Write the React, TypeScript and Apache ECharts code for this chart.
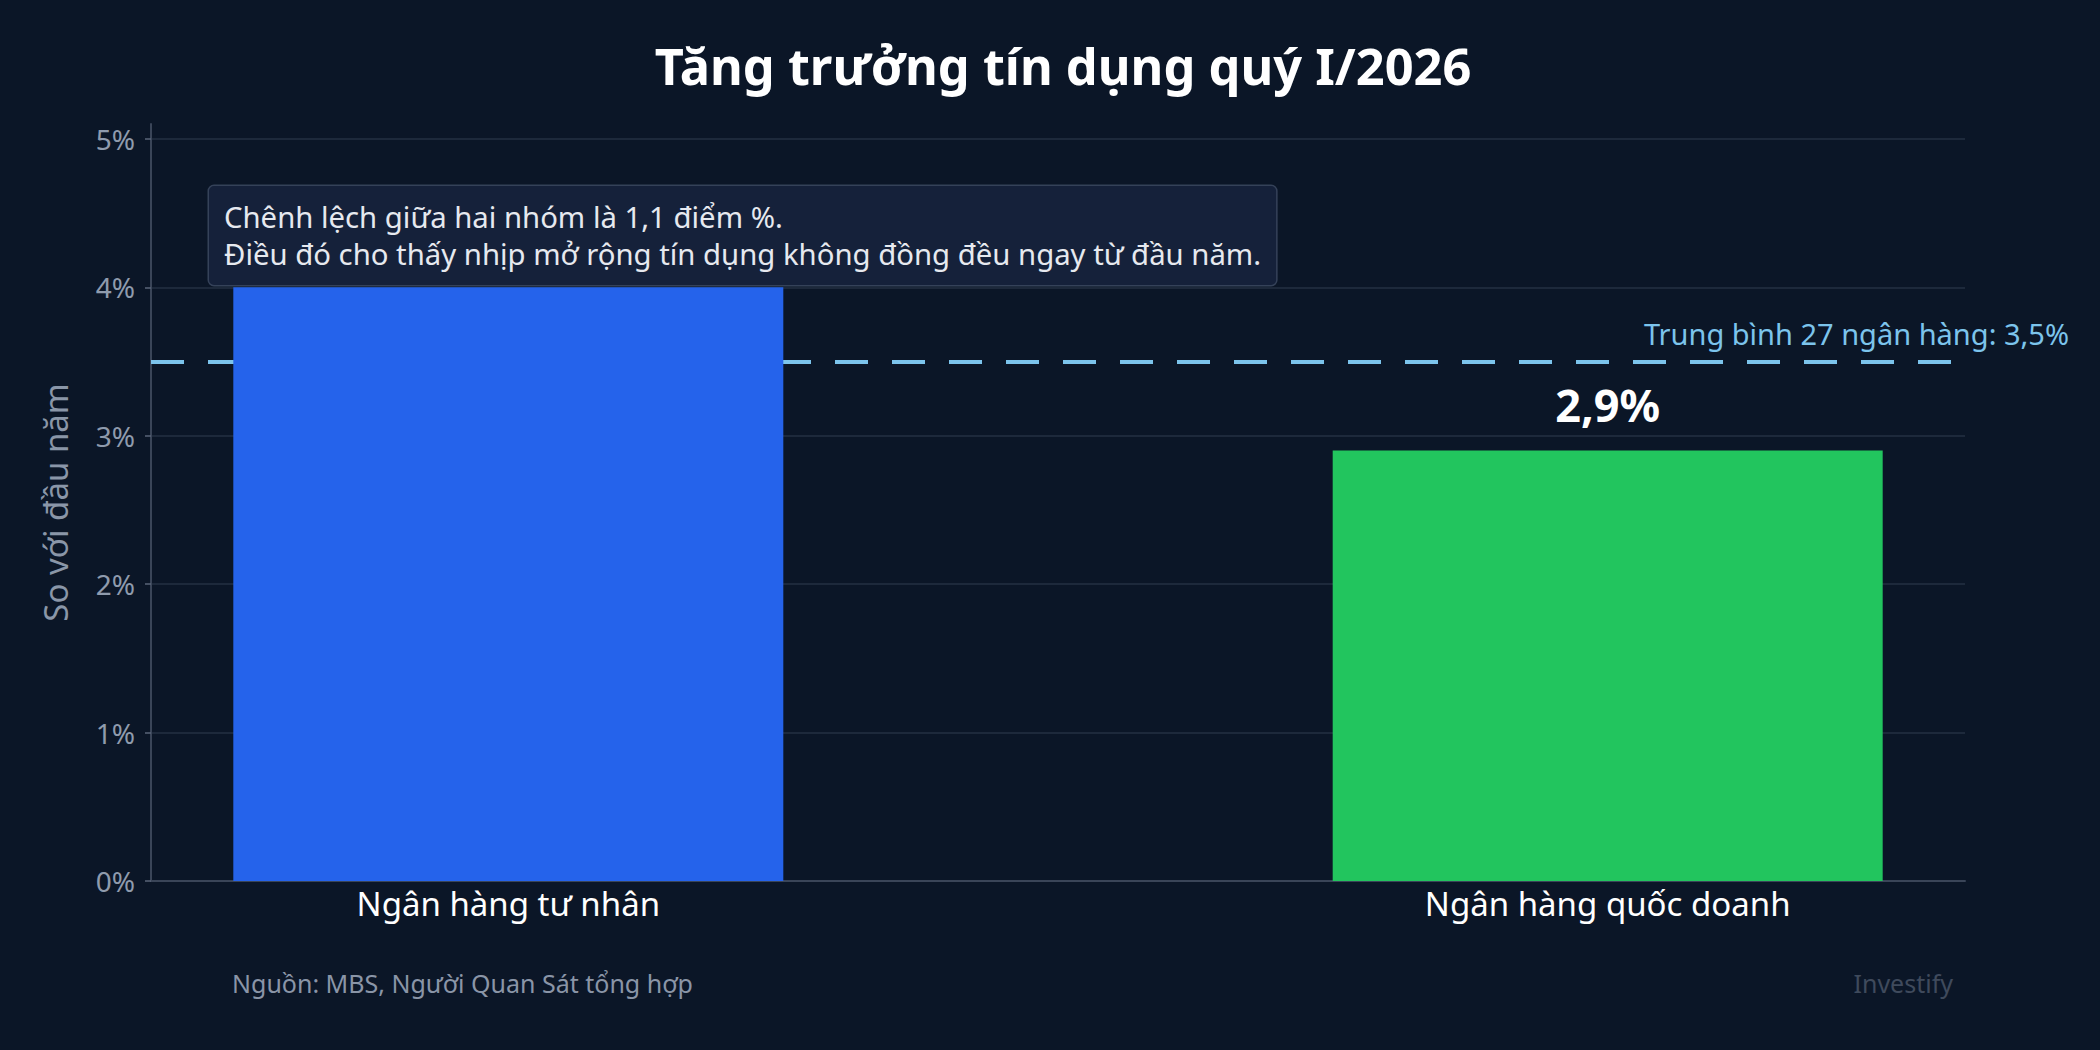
import React, { useEffect, useRef } from "react";
import * as echarts from "echarts";

const categories = ["Ngân hàng tư nhân", "Ngân hàng quốc doanh"];
const growth = [4.0, 2.9];
const barColors = ["#2563eb", "#22c55e"];
const showValueLabel = [false, true];
const averageValue = 3.5;
const averageLabel = "Trung bình 27 ngân hàng: 3,5%";
const yTicks = [0, 1, 2, 3, 4, 5];
const titleText = "Tăng trưởng tín dụng quý I/2026";
const yAxisName = "So với đầu năm";
const noteLines = [
  "Chênh lệch giữa hai nhóm là 1,1 điểm %.",
  "Điều đó cho thấy nhịp mở rộng tín dụng không đồng đều ngay từ đầu năm.",
];
const sourceText = "Nguồn: MBS, Người Quan Sát tổng hợp";
const brandText = "Investify";

const FONT = '"Noto Sans", "DejaVu Sans", sans-serif';

export default function App() {
  const ref = useRef<HTMLDivElement>(null);
  useEffect(() => {
    if (!ref.current) return;
    const chart = echarts.init(ref.current, null, { renderer: "svg" });
    const fmt = (v: number) => String(v).replace(".", ",") + "%";
    chart.setOption({
      animation: false,
      backgroundColor: "#0b1627",
      textStyle: { fontFamily: FONT },
      title: {
        text: titleText,
        left: 1058,
        textAlign: "center",
        top: 35,
        textStyle: { color: "#ffffff", fontSize: 50.5, fontWeight: "bold", fontFamily: FONT },
      },
      grid: { left: 151, right: 135, top: 124, bottom: 169, containLabel: false },
      xAxis: {
        type: "value",
        min: -0.325,
        max: 1.325,
        axisLine: { show: true, onZero: false, lineStyle: { color: "#3a4558", width: 2 } },
        axisTick: { show: false },
        splitLine: { show: false },
        axisLabel: {
          customValues: categories.map((_, i) => i),
          formatter: (v: number) => categories[Math.round(v)] ?? "",
          color: "#ffffff",
          fontSize: 33,
          margin: 6,
          fontFamily: FONT,
        },
      },
      yAxis: {
        type: "value",
        min: 0,
        max: 5.1,
        name: yAxisName,
        nameLocation: "middle",
        nameGap: 79,
        nameRotate: 90,
        nameTextStyle: { color: "#8a96a8", fontSize: 33, fontFamily: FONT },
        axisLine: { show: true, onZero: false, lineStyle: { color: "#3a4558", width: 2 } },
        axisTick: { show: true, customValues: yTicks, length: 6, lineStyle: { color: "#5a6578", width: 1.5 } },
        axisLabel: {
          customValues: yTicks,
          formatter: (v: number) => fmt(v),
          color: "#8f9bad",
          fontSize: 28,
          margin: 16,
          fontFamily: FONT,
        },
        splitLine: { show: true, lineStyle: { color: "#243043", width: 1.5 } },
      },
      series: [
        {
          type: "bar",
          z: 2,
          barWidth: 550,
          data: categories.map((c, i) => ({
            value: [i, growth[i]],
            name: c,
            itemStyle: { color: barColors[i] },
            label: {
              show: showValueLabel[i],
              position: "top",
              distance: 24,
              formatter: () => fmt(growth[i]),
              color: "#ffffff",
              fontSize: 45,
              fontWeight: "bold",
              fontFamily: FONT,
            },
          })),
          markLine: {
            z: 1,
            silent: true,
            symbol: "none",
            lineStyle: { color: "#7cc4ec", width: 4, type: [33, 24] },
            label: {
              show: true,
              position: "insideEndTop",
              distance: [-104, 13],
              formatter: averageLabel,
              color: "#7cc4ec",
              fontSize: 29,
              fontFamily: FONT,
            },
            data: [{ yAxis: averageValue }],
          },
        },
      ],
      graphic: [
        {
          type: "text",
          x: 209,
          y: 186,
          z: 100,
          style: {
            text: noteLines.join("\n"),
            fill: "#e6e9ef",
            font: `29.3px ${FONT}`,
            lineHeight: 37.5,
            backgroundColor: "#15213a",
            borderColor: "#354259",
            borderWidth: 1.5,
            borderRadius: 5,
            padding: [12, 15, 12, 15],
          },
        },
        {
          type: "text",
          x: 232,
          y: 983,
          style: {
            text: sourceText,
            fill: "#8a95a7",
            font: `25px ${FONT}`,
            textVerticalAlign: "middle",
          },
        },
        {
          type: "text",
          x: 1953,
          y: 983,
          style: {
            text: brandText,
            fill: "#3f4a5c",
            font: `25px ${FONT}`,
            textAlign: "right",
            textVerticalAlign: "middle",
          },
        },
      ],
    });
    return () => chart.dispose();
  }, []);
  return (
    <div
      ref={ref}
      style={{ position: "fixed", left: 0, top: 0, width: 2100, height: 1050 }}
    />
  );
}
